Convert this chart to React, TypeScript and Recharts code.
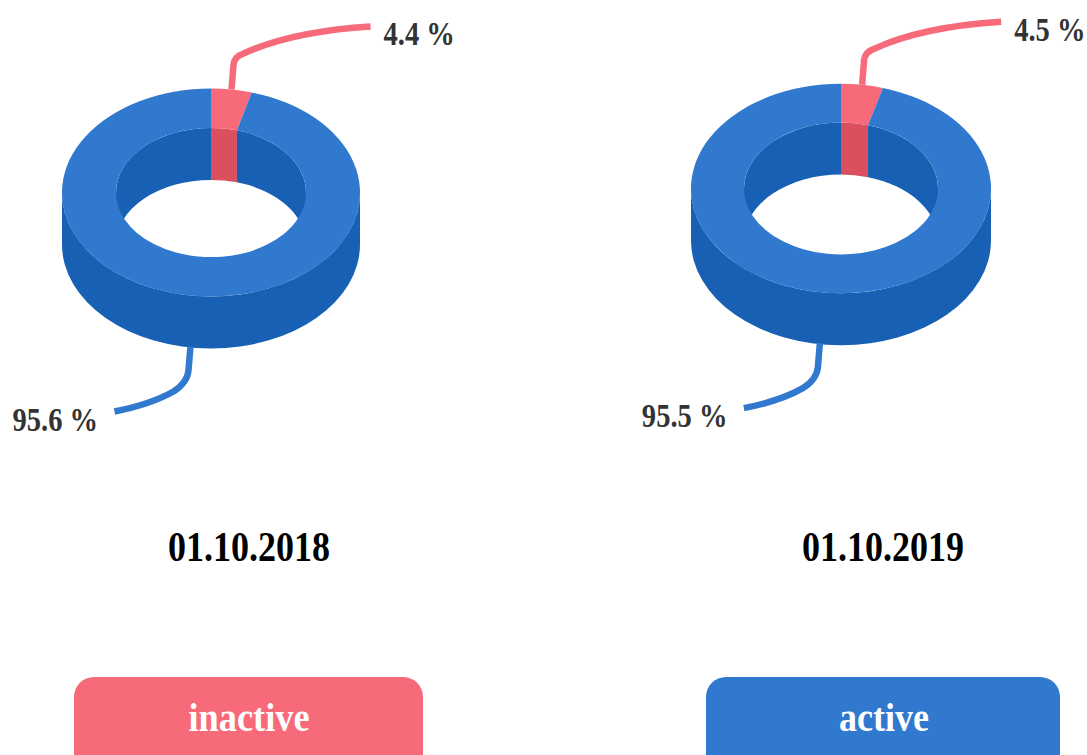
import { Pie, PieChart } from "recharts";

const CATEGORIES = ["inactive", "active"];
const VALUES_2018 = [4.4, 95.6];
const VALUES_2019 = [4.5, 95.5];
const DATES = ["01.10.2018", "01.10.2019"];

const FACE: Record<string, string> = { inactive: "#f66a7a", active: "#3179cf" };
const WALL: Record<string, string> = { inactive: "#db505f", active: "#1860b4" };

const DEPTH = 52;
const OUTER_SQUASH = 0.698;
const INNER_SQUASH = 0.68;
const FONT = "'Liberation Serif', serif";

const rows = (values: number[]) =>
  CATEGORIES.map((name, i) => ({ name, value: values[i] }));

const rad = (a: number) => (a * Math.PI) / 180;

// Point on a squashed circle, with the usual recharts angle convention
function pt(cx: number, cy: number, r: number, squash: number, a: number) {
  return [cx + r * Math.cos(rad(a)), cy - r * squash * Math.sin(rad(a))];
}

function FaceSector(props: any) {
  const { cx, cy, innerRadius, outerRadius, startAngle, endAngle, name } = props;
  const large = Math.abs(startAngle - endAngle) > 180 ? 1 : 0;
  const oRy = outerRadius * OUTER_SQUASH;
  const iRy = innerRadius * INNER_SQUASH;
  const a = pt(cx, cy, outerRadius, OUTER_SQUASH, startAngle);
  const b = pt(cx, cy, outerRadius, OUTER_SQUASH, endAngle);
  const c = pt(cx, cy, innerRadius, INNER_SQUASH, endAngle);
  const d = pt(cx, cy, innerRadius, INNER_SQUASH, startAngle);
  const path = `M${a} A${outerRadius} ${oRy} 0 ${large} 1 ${b} L${c} A${innerRadius} ${iRy} 0 ${large} 0 ${d} Z`;
  return <path d={path} fill={FACE[name]} />;
}

function wallPath(
  cx: number,
  cy: number,
  r: number,
  squash: number,
  from: number,
  to: number
) {
  const large = from - to > 180 ? 1 : 0;
  const ry = r * squash;
  const a = pt(cx, cy, r, squash, from);
  const b = pt(cx, cy, r, squash, to);
  return `M${a} A${r} ${ry} 0 ${large} 1 ${b} L${b[0]} ${b[1] + DEPTH} A${r} ${ry} 0 ${large} 0 ${a[0]} ${a[1] + DEPTH} Z`;
}

// Only the front of the outer wall and the back of the inner wall can be seen
function WallSector(props: any) {
  const { cx, cy, innerRadius, outerRadius, startAngle, endAngle, name } = props;
  const parts: string[] = [];
  const clip = (lo: number, hi: number, r: number, squash: number) => {
    const from = Math.min(startAngle, hi);
    const to = Math.max(endAngle, lo);
    if (from > to) parts.push(wallPath(cx, cy, r, squash, from, to));
  };
  clip(-180, 0, outerRadius, OUTER_SQUASH);
  clip(0, 180, innerRadius, INNER_SQUASH);
  clip(-360, -180, innerRadius, INNER_SQUASH);
  return <path d={parts.join(" ")} fill={WALL[name]} />;
}

// Start of a leader: top rim for the back slice, bottom of the wall for the front one
function leaderStart(props: any) {
  const { cx, cy, outerRadius, midAngle } = props;
  const [x, y] = pt(cx, cy, outerRadius, OUTER_SQUASH, midAngle);
  return Math.sin(rad(midAngle)) > 0 ? [x, y] : [x, y + DEPTH - 1];
}

function LeaderLine(props: any) {
  const [x, y] = leaderStart(props);
  const path =
    props.name === "inactive"
      ? `M${x} ${y} L${x + 2} ${y - 25} Q${x + 3} ${y - 33} ${x + 12} ${y - 36} Q${x + 60} ${y - 58} ${x + 139} ${y - 63}`
      : `M${x} ${y} L${x - 2} ${y + 24} Q${x - 3} ${y + 36} ${x - 17} ${y + 45} Q${x - 40} ${y + 58} ${x - 76} ${y + 65}`;
  return <path d={path} fill="none" stroke={FACE[props.name]} strokeWidth={6.5} />;
}

function LeaderLabel(props: any) {
  const [x, y] = leaderStart(props);
  const isTop = props.name === "inactive";
  const tx = isTop ? x + 152 : x - 178;
  const ty = isTop ? y - 44 : y + 84;
  return (
    <text
      transform={`translate(${tx} ${ty}) scale(0.84 1)`}
      fill="#333"
      fontFamily={FONT}
      fontWeight="bold"
      fontSize={34}
    >
      {`${props.value} %`}
    </text>
  );
}

function Donut(cx: number, cy: number, radius: number, hole: number, data: any[]) {
  return [
    <Pie
      key="wall"
      data={data}
      dataKey="value"
      nameKey="name"
      cx={cx}
      cy={cy}
      innerRadius={hole}
      outerRadius={radius}
      startAngle={90}
      endAngle={-270}
      shape={WallSector}
      isAnimationActive={false}
    />,
    <Pie
      key="face"
      data={data}
      dataKey="value"
      nameKey="name"
      cx={cx}
      cy={cy}
      innerRadius={hole}
      outerRadius={radius}
      startAngle={90}
      endAngle={-270}
      shape={FaceSector}
      label={LeaderLabel}
      labelLine={LeaderLine}
      isAnimationActive={false}
    />,
  ];
}

function Caption({ x, y, w, text, size, fill }: any) {
  return (
    <text
      x={x}
      y={y}
      textAnchor="middle"
      fill={fill}
      fontFamily={FONT}
      fontWeight="bold"
      fontSize={size}
      textLength={w}
      lengthAdjust="spacingAndGlyphs"
    >
      {text}
    </text>
  );
}

export default function App() {
  return (
    <div style={{ position: "absolute", left: 0, top: 0, width: 1087, height: 755, overflow: "hidden" }}>
      <PieChart width={1087} height={755} margin={{ top: 0, right: 0, bottom: 0, left: 0 }}>
        {Donut(211, 192.5, 149, 95, rows(VALUES_2018))}
        {Donut(841, 188.5, 150, 97, rows(VALUES_2019))}
      </PieChart>
      <svg width={1087} height={755} style={{ position: "absolute", left: 0, top: 0 }}>
        <Caption x={249} y={561} w={162} size={42} fill="#000" text={DATES[0]} />
        <Caption x={883} y={561} w={162} size={42} fill="#000" text={DATES[1]} />
        <rect x={74} y={677} width={349} height={100} rx={20} fill={FACE.inactive} />
        <rect x={706} y={677} width={354} height={100} rx={20} fill={FACE.active} />
        <Caption x={249} y={731} w={121} size={40} fill="#fff" text={CATEGORIES[0]} />
        <Caption x={884} y={731} w={90} size={40} fill="#fff" text={CATEGORIES[1]} />
      </svg>
    </div>
  );
}
